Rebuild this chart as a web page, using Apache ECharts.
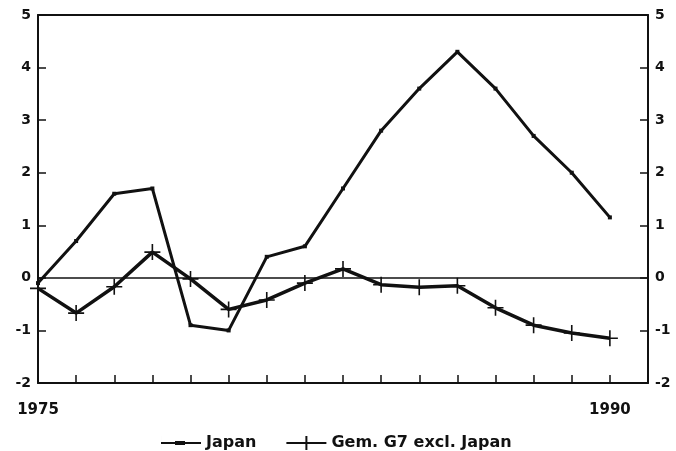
<!DOCTYPE html>
<html lang="en">
<head>
    <meta charset="UTF-8">
    <title>Japan vs G7 excl. Japan</title>
    <script src="https://cdn.jsdelivr.net/npm/echarts@6/dist/echarts.min.js"></script>
</head>
<body style="margin:0;background:#fff;">
<div id="main" style="width: 676px;height:451px;"></div>
<script>
    var years = [1975, 1976, 1977, 1978, 1979, 1980, 1981, 1982, 1983, 1984, 1985, 1986, 1987, 1988, 1989, 1990];
    var japan = [-0.1, 0.7, 1.6, 1.7, -0.9, -1.0, 0.4, 0.6, 1.7, 2.8, 3.6, 4.3, 3.6, 2.7, 2.0, 1.15];
    var g7ExclJapan = [-0.2, -0.67, -0.17, 0.49, -0.02, -0.6, -0.42, -0.1, 0.17, -0.13, -0.18, -0.15, -0.57, -0.9, -1.05, -1.15];
    var labelYears = [1975, 1990];

    var ink = '#111';
    var plus = 'path://M9,0 H11 V9 H20 V11 H11 V20 H9 V11 H0 V9 H9 Z';
    // legend icons: a line with a small blob, a line with a cross
    var dashIcon = 'path://M0,6 H40 V8 H0 Z M14,5 H24 V9 H14 Z M0,0 H0.01 V14 H0 Z';
    var plusIcon = 'path://M0,6 H40 V8 H0 Z M19,0 H21 V14 H19 Z';

    function pairs(vals) {
        return years.map(function (y, i) { return [y, vals[i]]; });
    }

    var labelFont = {
        color: ink,
        fontFamily: 'DejaVu Sans',
        fontWeight: 'bold',
        fontSize: 14
    };

    var myChart = echarts.init(document.getElementById('main'));
    var option = {
        animation: false,
        backgroundColor: '#fff',
        grid: { left: 38, right: 28, top: 15, bottom: 68 },
        xAxis: [
            {
                type: 'value',
                min: 1975,
                max: 1991,
                interval: 1,
                axisLine: { onZero: false, lineStyle: { color: ink, width: 2 } },
                axisTick: { inside: true, length: 8, lineStyle: { color: ink, width: 1.5 } },
                splitLine: { show: false },
                axisLabel: Object.assign({}, labelFont, {
                    fontSize: 15,
                    margin: 20,
                    formatter: function (v) { return labelYears.indexOf(v) >= 0 ? String(v) : ''; }
                })
            },
            {
                type: 'value',
                position: 'top',
                min: 1975,
                max: 1991,
                axisLine: { show: true, onZero: false, lineStyle: { color: ink, width: 2 } },
                axisTick: { show: false },
                axisLabel: { show: false },
                splitLine: { show: false }
            }
        ],
        yAxis: [
            {
                type: 'value',
                min: -2,
                max: 5,
                interval: 1,
                axisLine: { show: true, onZero: false, lineStyle: { color: ink, width: 2 } },
                axisTick: { show: true, inside: true, length: 8, lineStyle: { color: ink, width: 1.5 } },
                splitLine: { show: false },
                axisLabel: Object.assign({}, labelFont, { margin: 7 })
            },
            {
                type: 'value',
                position: 'right',
                min: -2,
                max: 5,
                interval: 1,
                axisLine: { show: true, onZero: false, lineStyle: { color: ink, width: 2 } },
                axisTick: { show: true, inside: true, length: 8, lineStyle: { color: ink, width: 1.5 } },
                splitLine: { show: false },
                axisLabel: Object.assign({}, labelFont, { margin: 7 })
            }
        ],
        legend: {
            left: 156,
            top: 430,
            itemWidth: 40,
            itemHeight: 14,
            itemGap: 30,
            textStyle: {
                color: ink,
                fontFamily: 'DejaVu Sans',
                fontWeight: 'bold',
                fontSize: 16
            },
            data: [
                { name: 'Japan', icon: dashIcon },
                { name: 'Gem. G7 excl. Japan', icon: plusIcon }
            ]
        },
        series: [
            {
                name: 'Japan',
                type: 'line',
                data: pairs(japan),
                symbol: 'rect',
                symbolSize: 4,
                itemStyle: { color: ink },
                lineStyle: { color: ink, width: 3 },
                markLine: {
                    silent: true,
                    symbol: 'none',
                    label: { show: false },
                    lineStyle: { color: ink, width: 1.5, type: 'solid' },
                    data: [{ yAxis: 0 }]
                }
            },
            {
                name: 'Gem. G7 excl. Japan',
                type: 'line',
                data: pairs(g7ExclJapan),
                symbol: plus,
                symbolSize: 16,
                itemStyle: { color: ink },
                lineStyle: { color: ink, width: 3.5 }
            }
        ]
    };
    myChart.setOption(option);
</script>
</body>
</html>
